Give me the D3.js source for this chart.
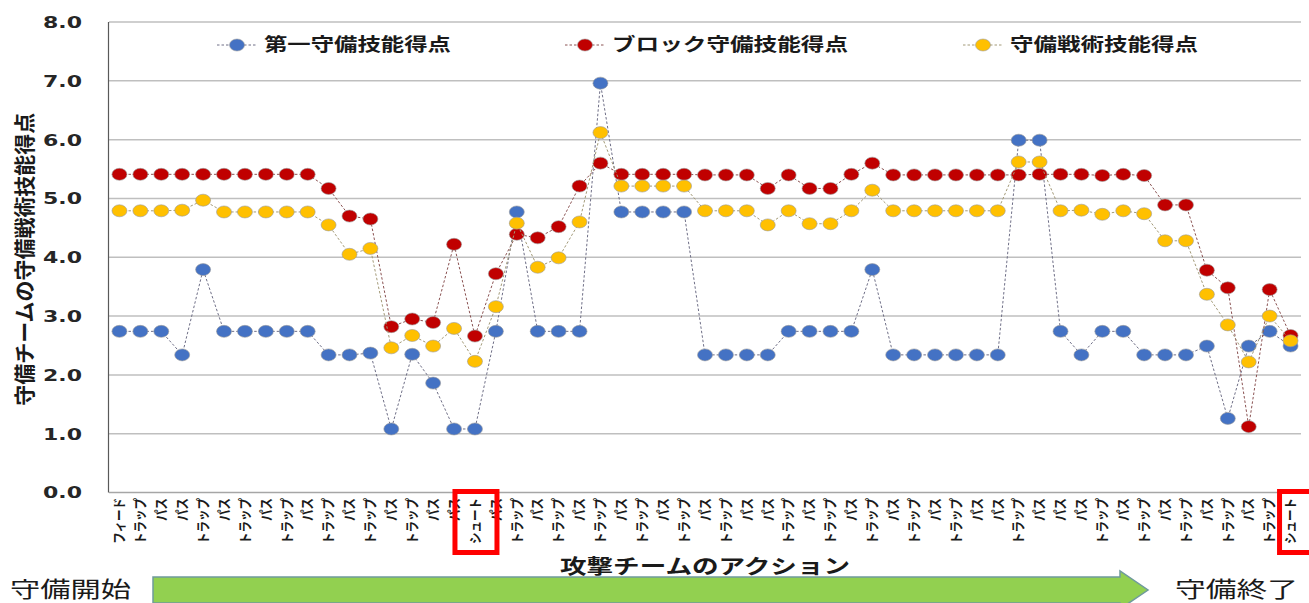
<!DOCTYPE html>
<html>
<head>
<meta charset="utf-8">
<script src="https://cdn.jsdelivr.net/npm/d3@7"></script>
<style>
  body { margin: 0; background: #fff; }
  svg { display: block; }
</style>
</head>
<body>
<svg id="chart" width="1309" height="603"></svg>
<script>
// categories (attack team actions)
var actions = ["フィード","トラップ","パス","パス","トラップ","パス","トラップ","パス","トラップ","パス",
  "トラップ","パス","トラップ","パス","トラップ","パス","パス","シュート","パス","トラップ",
  "パス","トラップ","パス","トラップ","パス","トラップ","パス","トラップ","パス","トラップ",
  "パス","パス","トラップ","パス","トラップ","パス","トラップ","パス","トラップ","パス",
  "トラップ","パス","パス","トラップ","パス","パス","パス","トラップ","パス","トラップ",
  "パス","トラップ","パス","トラップ","パス","トラップ","シュート"];

var firstDefense = [2.74,2.74,2.74,2.34,3.79,2.74,2.74,2.74,2.74,2.74,
  2.34,2.34,2.37,1.08,2.35,1.86,1.08,1.08,2.74,4.77,
  2.74,2.74,2.74,6.96,4.77,4.77,4.77,4.77,2.34,2.34,
  2.34,2.34,2.74,2.74,2.74,2.74,3.79,2.34,2.34,2.34,
  2.34,2.34,2.34,5.99,5.99,2.74,2.34,2.74,2.74,2.34,
  2.34,2.34,2.49,1.26,2.49,2.74,2.49];

var blockDefense = [5.41,5.41,5.41,5.41,5.41,5.41,5.41,5.41,5.41,5.41,
  5.17,4.70,4.65,2.82,2.95,2.89,4.22,2.66,3.72,4.39,
  4.33,4.52,5.21,5.60,5.41,5.41,5.41,5.41,5.40,5.40,
  5.40,5.17,5.40,5.17,5.17,5.41,5.60,5.40,5.40,5.40,
  5.40,5.40,5.40,5.40,5.41,5.41,5.41,5.39,5.41,5.39,
  4.89,4.89,3.78,3.48,1.12,3.45,2.67];

var tacticsDefense = [4.79,4.79,4.79,4.80,4.97,4.77,4.77,4.77,4.77,4.77,
  4.55,4.05,4.15,2.46,2.67,2.49,2.79,2.23,3.16,4.58,
  3.83,3.99,4.60,6.12,5.21,5.21,5.21,5.21,4.79,4.79,
  4.79,4.55,4.79,4.57,4.57,4.79,5.14,4.79,4.79,4.79,
  4.79,4.79,4.79,5.62,5.62,4.79,4.80,4.73,4.79,4.74,
  4.28,4.28,3.37,2.85,2.22,3.00,2.58];

var seriesNames = ["第一守備技能得点","ブロック守備技能得点","守備戦術技能得点"];
var yTicks = [0,1,2,3,4,5,6,7,8];
var highlighted = [17, 56]; // shoot actions boxed in red

var series = [
  {name: seriesNames[0], values: firstDefense, fill: "#4472c4", line: "#6e6e86"},
  {name: seriesNames[1], values: blockDefense, fill: "#c00000", line: "#8a5252"},
  {name: seriesNames[2], values: tacticsDefense, fill: "#ffc000", line: "#a39a78"}
];

var svg = d3.select("#chart");
var jp = "'Noto Sans CJK JP', 'Noto Sans', sans-serif";
// plot box (note: "top" would clash with window.top)
var plotL = 109, plotR = 1301, plotT = 22, plotB = 492.5;

var x = d3.scaleBand().domain(d3.range(actions.length)).range([plotL, plotR]);
var y = d3.scaleLinear().domain([0, 8]).range([plotB, plotT]);
var cx = function(i) { return x(i) + x.bandwidth() / 2; };

// gridlines
svg.append("g").selectAll("line").data(yTicks.slice(1)).enter().append("line")
  .attr("x1", plotL).attr("x2", plotR)
  .attr("y1", function(d){ return y(d); }).attr("y2", function(d){ return y(d); })
  .attr("stroke", "#bfbfbf").attr("stroke-width", 1.5);

// x axis baseline + y axis line
svg.append("line").attr("x1", plotL).attr("x2", plotR).attr("y1", y(0)).attr("y2", y(0))
  .attr("stroke", "#a6a6a6").attr("stroke-width", 1.5);
svg.append("line").attr("x1", plotL - 0.5).attr("x2", plotL - 0.5).attr("y1", plotT).attr("y2", y(0))
  .attr("stroke", "#595959").attr("stroke-width", 1.2);

// y tick labels
svg.append("g").selectAll("text").data(yTicks).enter().append("text")
  .attr("x", 82).attr("y", function(d){ return y(d); }).attr("dy", "0.36em")
  .attr("text-anchor", "end")
  .attr("textLength", 39).attr("lengthAdjust", "spacingAndGlyphs")
  .style("font-family", "'DejaVu Sans', sans-serif").style("font-weight", "bold")
  .style("font-size", "16.5px").style("fill", "#262626")
  .text(function(d){ return d.toFixed(1); });

// y axis title
svg.append("text")
  .attr("transform", "translate(32," + ((plotT + plotB) / 2 + 2) + ") rotate(-90)")
  .attr("text-anchor", "middle")
  .attr("textLength", 293).attr("lengthAdjust", "spacingAndGlyphs")
  .style("font-family", jp).style("font-weight", "bold").style("font-size", "21px").style("fill", "#1a1a1a")
  .text("守備チームの守備戦術技能得点");

// x tick labels (rotated, glyphs a bit wider like the source)
svg.append("g").selectAll("text").data(actions).enter().append("text")
  .attr("transform", function(d, i){ return "translate(" + cx(i) + ",498) rotate(-90) scale(1,1.15)"; })
  .attr("dy", "0.36em")
  .attr("text-anchor", "end")
  .style("font-family", jp).style("font-size", "11.5px").style("font-weight", "bold").style("fill", "#1a1a1a")
  .text(function(d){ return d; });

// red boxes around the shoot labels
svg.append("g").selectAll("rect").data(highlighted).enter().append("rect")
  .attr("x", function(d, i){ return cx(d) - (i == 0 ? 20 : 11); })
  .attr("y", 491.5).attr("width", 42).attr("height", 61)
  .attr("fill", "none").attr("stroke", "#ff0000").attr("stroke-width", 5);

// series lines and markers
var line = d3.line().x(function(d, i){ return cx(i); }).y(function(d){ return y(d); });
series.forEach(function(s) {
  svg.append("path").datum(s.values)
    .attr("d", line).attr("fill", "none")
    .attr("stroke", s.line).attr("stroke-width", 1).attr("stroke-dasharray", "2.5,2");
  svg.append("g").selectAll("ellipse").data(s.values).enter().append("ellipse")
    .attr("cx", function(d, i){ return cx(i); }).attr("cy", function(d){ return y(d); })
    .attr("rx", 7.5).attr("ry", 6)
    .attr("fill", s.fill).attr("stroke", "#9a9a9a").attr("stroke-width", 0.6);
});

// legend
var legendX = [237, 585, 983];
var legendLen = [187, 236, 188];
var legend = svg.append("g").selectAll("g").data(series).enter().append("g")
  .attr("transform", function(d, i){ return "translate(" + legendX[i] + ",45)"; });
legend.append("line").attr("x1", -20).attr("x2", 20)
  .attr("stroke", function(d){ return d.line; }).attr("stroke-dasharray", "2.5,2");
legend.append("ellipse").attr("rx", 7.5).attr("ry", 6)
  .attr("fill", function(d){ return d.fill; }).attr("stroke", "#9a9a9a").attr("stroke-width", 0.6);
legend.append("text").attr("x", 27).attr("dy", "0.36em")
  .attr("textLength", function(d, i){ return legendLen[i]; }).attr("lengthAdjust", "spacingAndGlyphs")
  .style("font-family", jp).style("font-weight", "bold").style("font-size", "18px").style("fill", "#1a1a1a")
  .text(function(d){ return d.name; });

// x axis title
svg.append("text").attr("x", 705).attr("y", 574).attr("text-anchor", "middle")
  .attr("textLength", 290).attr("lengthAdjust", "spacingAndGlyphs")
  .style("font-family", jp).style("font-weight", "bold").style("font-size", "20px").style("fill", "#1a1a1a")
  .text("攻撃チームのアクション");

// green progress arrow
var arrow = [[153,577],[1120,577],[1120,571],[1148,590],[1120,609],[1120,603],[153,603]];
svg.append("path").attr("d", d3.line()(arrow) + "Z")
  .attr("fill", "#92d050").attr("stroke", "#6f9a9c").attr("stroke-width", 1.5);

svg.append("text").attr("x", 10).attr("y", 597)
  .attr("textLength", 121).attr("lengthAdjust", "spacingAndGlyphs")
  .style("font-family", jp).style("font-size", "22px").style("fill", "#1a1a1a")
  .text("守備開始");
svg.append("text").attr("x", 1175).attr("y", 597)
  .attr("textLength", 123).attr("lengthAdjust", "spacingAndGlyphs")
  .style("font-family", jp).style("font-size", "22px").style("fill", "#1a1a1a")
  .text("守備終了");
</script>
</body>
</html>
